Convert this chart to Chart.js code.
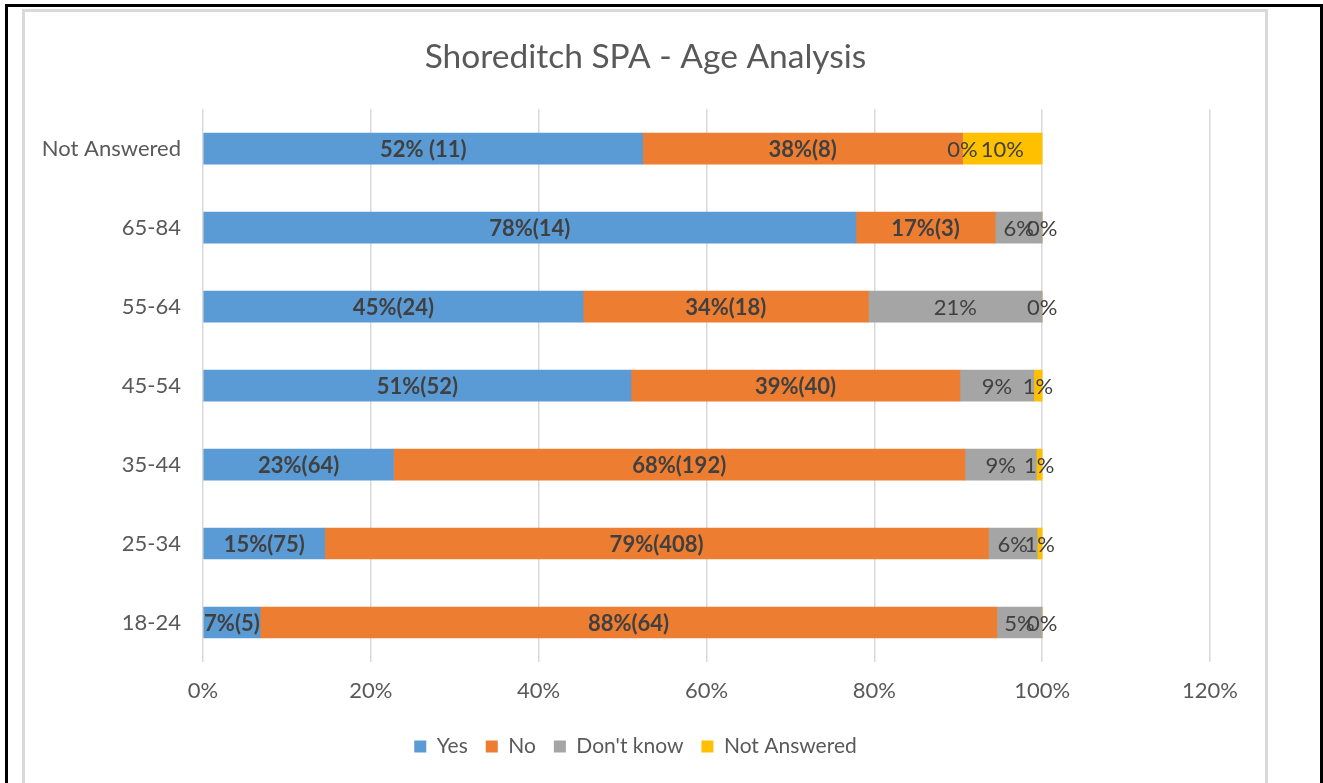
<!DOCTYPE html>
<html>
<head>
<meta charset="utf-8">
<script src="https://cdn.jsdelivr.net/npm/chart.js@4/dist/chart.umd.min.js"></script>
<style>
  html, body { margin: 0; padding: 0; background: #fff; overflow: hidden; }
  #outer { position: absolute; left: 5px; top: 4px; width: 1312px; height: 800px; border: 3px solid #000; border-bottom: none; }
  #inner { position: absolute; left: 22px; top: 9px; width: 1240px; height: 800px; border: 3px solid #d9d9d9; border-bottom: none; background: #fff; }
  #wrap { position: absolute; left: 25px; top: 12px; width: 1240px; height: 771px; }
</style>
</head>
<body>
<div id="outer"></div>
<div id="inner"></div>
<div id="wrap"><canvas id="c"></canvas></div>
<script>
const categories = ['Not Answered', '65-84', '55-64', '45-54', '35-44', '25-34', '18-24'];
const yesPct = [52.4, 77.8, 45.3, 51.0, 22.7, 14.5, 6.8];
const noPct  = [38.1, 16.6, 34.0, 39.2, 68.1, 79.1, 87.8];
const dkPct  = [0, 5.6, 20.7, 8.8, 8.5, 5.8, 5.4];
const naPct  = [9.5, 0, 0, 1.0, 0.7, 0.6, 0];
const yesLabels = ['52% (11)', '78%(14)', '45%(24)', '51%(52)', '23%(64)', '15%(75)', '7%(5)'];
const noLabels  = ['38%(8)', '17%(3)', '34%(18)', '39%(40)', '68%(192)', '79%(408)', '88%(64)'];
const dkLabels  = ['0%', '6%', '21%', '9%', '9%', '6%', '5%'];
const naLabels  = ['10%', '0%', '0%', '1%', '1%', '1%', '0%'];
const xTicks = [0, 20, 40, 60, 80, 100, 120];

const FONT = 'Lato, "Open Sans", sans-serif';
const TXT = '#595959';

const labelPlugin = {
  id: 'segLabels',
  afterLayout(chart) {
    if (chart.legend) { chart.legend.left += 18; chart.legend.right += 18; }
    if (chart.titleBlock) { chart.titleBlock.left += 28; chart.titleBlock.right += 28; }
  },
  afterDatasetsDraw(chart) {
    const ctx = chart.ctx;
    ctx.save();
    ctx.textAlign = 'center';
    ctx.textBaseline = 'middle';
    ctx.fillStyle = '#404040';
    chart.data.datasets.forEach((ds, di) => {
      const meta = chart.getDatasetMeta(di);
      meta.data.forEach((bar, i) => {
        const x = (bar.x + bar.base) / 2;
        ctx.font = (ds.boldLabel ? 'bold ' : '') + '22px ' + FONT;
        ctx.fillText(ds.segLabels[i], x, bar.y + 1);
      });
    });
    ctx.restore();
  }
};

new Chart(document.getElementById('c'), {
  type: 'bar',
  data: {
    labels: categories,
    datasets: [
      { label: 'Yes', data: yesPct, backgroundColor: '#5B9BD5', segLabels: yesLabels, boldLabel: true },
      { label: 'No', data: noPct, backgroundColor: '#ED7D31', segLabels: noLabels, boldLabel: true },
      { label: "Don't know", data: dkPct, backgroundColor: '#A5A5A5', segLabels: dkLabels, boldLabel: false },
      { label: 'Not Answered', data: naPct, backgroundColor: '#FFC000', segLabels: naLabels, boldLabel: false }
    ]
  },
  options: {
    indexAxis: 'y',
    responsive: true,
    maintainAspectRatio: false,
    animation: false,
    datasets: { bar: { barThickness: 31 } },
    layout: { padding: { left: 0, right: 55, top: 0, bottom: 16 } },
    plugins: {
      title: {
        display: true,
        text: 'Shoreditch SPA - Age Analysis',
        color: TXT,
        font: { family: FONT, size: 33.5, weight: 'normal' },
        padding: { top: 25, bottom: 32 }
      },
      legend: {
        position: 'bottom',
        labels: {
          color: TXT,
          font: { family: FONT, size: 21 },
          boxWidth: 12,
          boxHeight: 12,
          padding: 18
        }
      },
      tooltip: { enabled: false }
    },
    scales: {
      x: {
        stacked: true,
        min: 0,
        max: 120,
        afterBuildTicks(axis) { axis.ticks = xTicks.map(v => ({ value: v })); },
        afterFit(axis) { axis.height = 56; },
        grid: { color: '#d9d9d9', lineWidth: 1.5, drawTicks: false },
        border: { display: false },
        ticks: {
          color: TXT,
          font: { family: FONT, size: 22 },
          padding: 16,
          maxRotation: 0,
          callback: v => v + '%'
        }
      },
      y: {
        stacked: true,
        afterFit(axis) { axis.width = 178; },
        grid: { display: false, drawTicks: false },
        border: { display: false },
        ticks: {
          color: TXT,
          font: { family: FONT, size: 22 },
          padding: 22
        }
      }
    }
  },
  plugins: [labelPlugin]
});
</script>
</body>
</html>
